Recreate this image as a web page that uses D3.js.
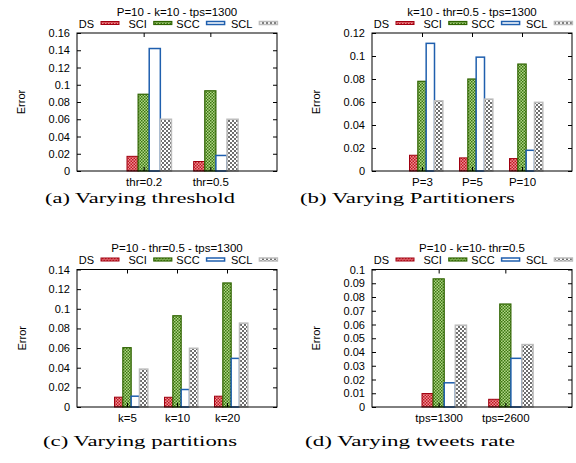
<!DOCTYPE html>
<html>
<head>
<meta charset="utf-8">
<script src="https://cdn.jsdelivr.net/npm/d3@7"></script>
<style>
  body { margin: 0; background: #fff; }
  text { font-family: "Liberation Sans", Arial, sans-serif; fill: #000; }
  .caption { font-family: "Liberation Serif", "Times New Roman", serif; }
</style>
</head>
<body>
<div class="canvas"></div>
<script>
const WIDTH = 576;
const HEIGHT = 463;

const seriesNames = ['DS', 'SCI', 'SCC', 'SCL'];

// (a) varying threshold
const thrCats = ['thr=0.2', 'thr=0.5'];
const thrDS = [0.017, 0.011];
const thrSCI = [0.089, 0.093];
const thrSCC = [0.142, 0.018];
const thrSCL = [0.060, 0.060];
const thrTicks = [0, 0.02, 0.04, 0.06, 0.08, 0.1, 0.12, 0.14, 0.16];

// (b) varying partitioners
const partCats = ['P=3', 'P=5', 'P=10'];
const partDS = [0.0137, 0.0114, 0.0108];
const partSCI = [0.078, 0.080, 0.093];
const partSCC = [0.111, 0.099, 0.018];
const partSCL = [0.061, 0.0625, 0.0597];
const partTicks = [0, 0.02, 0.04, 0.06, 0.08, 0.1, 0.12];

// (c) varying partitions
const kCats = ['k=5', 'k=10', 'k=20'];
const kDS = [0.010, 0.0099, 0.011];
const kSCI = [0.0604, 0.0929, 0.1263];
const kSCC = [0.011, 0.0178, 0.0495];
const kSCL = [0.0386, 0.0598, 0.0854];
const kTicks = [0, 0.02, 0.04, 0.06, 0.08, 0.1, 0.12, 0.14];

// (d) varying tweets rate
const tpsCats = ['tps=1300', 'tps=2600'];
const tpsDS = [0.0098, 0.0056];
const tpsSCI = [0.0932, 0.0749];
const tpsSCC = [0.0176, 0.0354];
const tpsSCL = [0.0595, 0.0454];
const tpsTicks = [0, 0.01, 0.02, 0.03, 0.04, 0.05, 0.06, 0.07, 0.08, 0.09, 0.1];

const titles = [
  'P=10 - k=10 - tps=1300',
  'k=10 - thr=0.5 - tps=1300',
  'P=10 - thr=0.5 - tps=1300',
  'P=10 - k=10- thr=0.5'
];
const captions = [
  '(a) Varying threshold',
  '(b) Varying Partitioners',
  '(c) Varying partitions',
  '(d) Varying tweets rate'
];

const svg = d3.select('.canvas')
  .append('svg')
    .attr('width', WIDTH)
    .attr('height', HEIGHT);

// fill patterns for the bars
const defs = svg.append('defs');
function checker(id, dark, light, c) {
  const p = defs.append('pattern')
    .attr('id', id)
    .attr('patternUnits', 'userSpaceOnUse')
    .attr('width', 2 * c)
    .attr('height', 2 * c);
  p.append('rect').attr('width', 2 * c).attr('height', 2 * c).attr('fill', light);
  p.append('rect').attr('width', c).attr('height', c).attr('fill', dark);
  p.append('rect').attr('x', c).attr('y', c).attr('width', c).attr('height', c).attr('fill', dark);
}
checker('pRed', '#c01822', '#ee8e94', 1.5);
checker('pGreen', '#3a7810', '#b2d488', 1.5);
checker('pGray', '#6e6e6e', '#ffffff', 2);

const styles = [
  { fill: 'url(#pRed)', stroke: '#a00010', sw: 1 },
  { fill: 'url(#pGreen)', stroke: '#2f6400', sw: 1.2 },
  { fill: '#fff', stroke: '#1f5fae', sw: 1.5 },
  { fill: 'url(#pGray)', stroke: '#bdbdbd', sw: 1.5 }
];

const panels = [
  { cats: thrCats, series: [thrDS, thrSCI, thrSCC, thrSCL], ticks: thrTicks, max: 0.16,
    left: 77, right: 277, top: 33, bottom: 171, errX: 21, cap: 140, capW: 190, capY: 203 },
  { cats: partCats, series: [partDS, partSCI, partSCC, partSCL], ticks: partTicks, max: 0.12,
    left: 372, right: 572, top: 33, bottom: 171, errX: 316, cap: 407.5, capW: 215, capY: 203 },
  { cats: kCats, series: [kDS, kSCI, kSCC, kSCL], ticks: kTicks, max: 0.14,
    left: 77, right: 277, top: 269.5, bottom: 407, errX: 22, cap: 140, capW: 194, capY: 446 },
  { cats: tpsCats, series: [tpsDS, tpsSCI, tpsSCC, tpsSCL], ticks: tpsTicks, max: 0.1,
    left: 372, right: 572, top: 269.5, bottom: 407, errX: 316, cap: 410, capW: 210, capY: 446 }
];

panels.forEach((p, pi) => {
  const g = svg.append('g');
  const n = p.cats.length;

  const x = d3.scaleLinear().domain([-1, n]).range([p.left, p.right]);
  const y = d3.scaleLinear().domain([0, p.max]).range([p.bottom, p.top]);

  // bars: series j in cluster i is centred at i + (j-1)/6
  p.series.forEach((vals, j) => {
    const s = styles[j];
    g.selectAll('.b' + j)
      .data(vals)
      .enter()
      .append('rect')
        .attr('x', (d, i) => x(i + (j - 1) / 6 - 1 / 12))
        .attr('width', x(1 / 6) - x(0))
        .attr('y', d => y(d))
        .attr('height', d => y(0) - y(d))
        .attr('fill', s.fill)
        .attr('stroke', s.stroke)
        .attr('stroke-width', s.sw);
  });

  // axes, ticks point inward, mirrored on the other sides
  const yAxis = d3.axisLeft(y).tickValues(p.ticks).tickSize(-4).tickPadding(7)
    .tickFormat(d => String(+d.toFixed(2)));
  const yAxisR = d3.axisRight(y).tickValues(p.ticks).tickSize(-4).tickFormat('');
  const xAxis = d3.axisBottom(x).tickValues(d3.range(n)).tickSize(-4).tickPadding(6.5)
    .tickFormat(i => p.cats[i]);
  const xAxisT = d3.axisTop(x).tickValues(d3.range(n)).tickSize(-4).tickFormat('');

  const yg = g.append('g').attr('transform', `translate(${p.left},0)`).call(yAxis);
  const yr = g.append('g').attr('transform', `translate(${p.right},0)`).call(yAxisR);
  const xg = g.append('g').attr('transform', `translate(0,${p.bottom})`).call(xAxis);
  const xt = g.append('g').attr('transform', `translate(0,${p.top})`).call(xAxisT);
  [yg, yr, xg, xt].forEach(a => {
    a.select('.domain').remove();
    a.selectAll('line').attr('stroke', '#000');
  });
  yg.selectAll('text').style('font-size', '11px').style('font-family', '"Liberation Sans", Arial, sans-serif');
  xg.selectAll('text').style('font-size', '11.5px').style('font-family', '"Liberation Sans", Arial, sans-serif');

  g.append('rect')
    .attr('x', p.left).attr('y', p.top)
    .attr('width', p.right - p.left).attr('height', p.bottom - p.top)
    .attr('fill', 'none').attr('stroke', '#000').attr('stroke-width', 1);

  // y label
  g.append('text')
    .attr('transform', `translate(${p.errX},${(p.top + p.bottom) / 2}) rotate(-90)`)
    .attr('text-anchor', 'middle')
    .attr('dy', '0.35em')
    .style('font-size', '11px')
    .text('Error');

  // title
  g.append('text')
    .attr('x', (p.left + p.right) / 2)
    .attr('y', p.top - 17.5)
    .attr('text-anchor', 'middle')
    .style('font-size', '11.5px')
    .text(titles[pi]);

  // key: label then sample
  seriesNames.forEach((name, j) => {
    const sx = p.left + 24 + j * 52.8;
    g.append('text')
      .attr('x', sx - 7)
      .attr('y', p.top - 5.5)
      .attr('text-anchor', 'end')
      .style('font-size', '11px')
      .text(name);
    g.append('rect')
      .attr('x', sx).attr('y', p.top - 11.5)
      .attr('width', 18).attr('height', 3)
      .attr('fill', styles[j].fill)
      .attr('stroke', styles[j].stroke)
      .attr('stroke-width', styles[j].sw);
  });

  // caption under the panel
  svg.append('text')
    .attr('class', 'caption')
    .attr('x', p.cap - p.capW / 2)
    .attr('y', p.capY)
    .attr('textLength', p.capW)
    .attr('lengthAdjust', 'spacingAndGlyphs')
    .style('font-size', '15px')
    .text(captions[pi]);
});
</script>
</body>
</html>
